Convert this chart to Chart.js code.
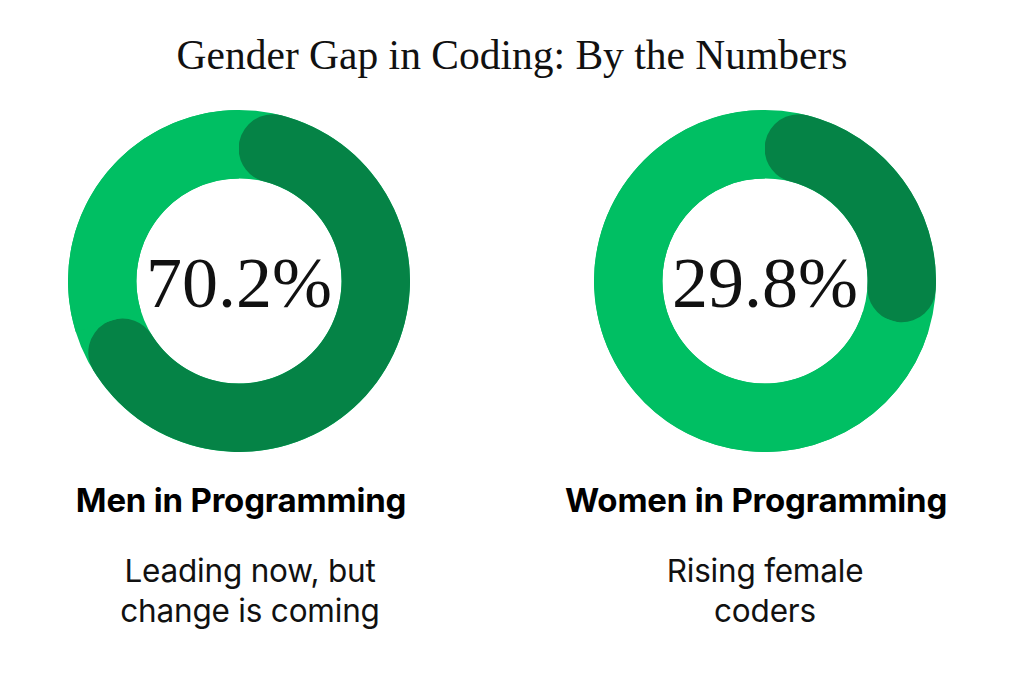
<!DOCTYPE html>
<html>
<head>
<meta charset="utf-8">
<script src="https://cdn.jsdelivr.net/npm/chart.js@4"></script>
<style>
  html, body { margin: 0; padding: 0; background: #fff; }
  body { width: 1024px; height: 683px; position: relative; overflow: hidden; }
  .title {
    position: absolute; left: 0; width: 1024px; top: 35px;
    text-align: center; font: 41.5px/1 "Liberation Serif", serif; color: #111;
  }
  .ring { position: absolute; top: 110px; width: 342px; height: 342px; }
  .label {
    position: absolute; top: 484px; width: 500px; text-align: center;
    font: bold 33px/1 Inter, sans-serif; color: #000; letter-spacing: -0.2px;
  }
  .caption {
    position: absolute; top: 551px; width: 400px; text-align: center;
    font: 31.5px/40px Inter, sans-serif; color: #111; letter-spacing: -0.2px;
  }
</style>
</head>
<body>
<div class="title">Gender Gap in Coding: By the Numbers</div>

<div class="ring" style="left:68px"><canvas id="menChart" width="342" height="342"></canvas></div>
<div class="ring" style="left:594px"><canvas id="womenChart" width="342" height="342"></canvas></div>

<div class="label" style="left:-9px">Men in Programming</div>
<div class="label" style="left:506px">Women in Programming</div>
<div class="caption" style="left:50px">Leading now, but<br>change is coming</div>
<div class="caption" style="left:565px">Rising female<br>coders</div>

<script>
// share of programmers, in percent
const menLabels = ['Men', 'Women'];
const menValues = [70.2, 29.8];
const womenLabels = ['Women', 'Men'];
const womenValues = [29.8, 70.2];

const DARK_GREEN = '#058346';
const LIGHT_GREEN = '#00bf63';

// full light ring behind the arcs, plus the big percentage in the hole
const ringAndLabel = {
  id: 'ringAndLabel',
  beforeDatasetsDraw(chart) {
    const arc = chart.getDatasetMeta(0).data[0];
    const ctx = chart.ctx;
    ctx.save();
    ctx.beginPath();
    ctx.arc(arc.x, arc.y, arc.outerRadius, 0, Math.PI * 2);
    ctx.arc(arc.x, arc.y, arc.innerRadius, 0, Math.PI * 2, true);
    ctx.fillStyle = LIGHT_GREEN;
    ctx.fill();
    ctx.restore();
  },
  afterDatasetsDraw(chart) {
    const arc = chart.getDatasetMeta(0).data[0];
    const ctx = chart.ctx;
    ctx.save();
    ctx.font = '72px "Liberation Serif", serif';
    ctx.fillStyle = '#111';
    ctx.textAlign = 'center';
    ctx.textBaseline = 'alphabetic';
    ctx.fillText(chart.data.datasets[0].data[0] + '%', arc.x, arc.y + 26);
    ctx.restore();
  }
};

function makeRing(canvasId, labels, values) {
  const thickness = 171 * 0.4;
  return new Chart(document.getElementById(canvasId), {
    type: 'doughnut',
    data: {
      labels,
      datasets: [{
        data: values,
        backgroundColor: [DARK_GREEN, LIGHT_GREEN],
        borderWidth: 0,
        borderRadius: [thickness / 2, 0],
      }]
    },
    options: {
      responsive: false,
      animation: false,
      cutout: '60%',
      layout: { padding: 0 },
      plugins: { legend: { display: false }, tooltip: { enabled: false } }
    },
    plugins: [ringAndLabel]
  });
}

makeRing('menChart', menLabels, menValues);
makeRing('womenChart', womenLabels, womenValues);
</script>
</body>
</html>
